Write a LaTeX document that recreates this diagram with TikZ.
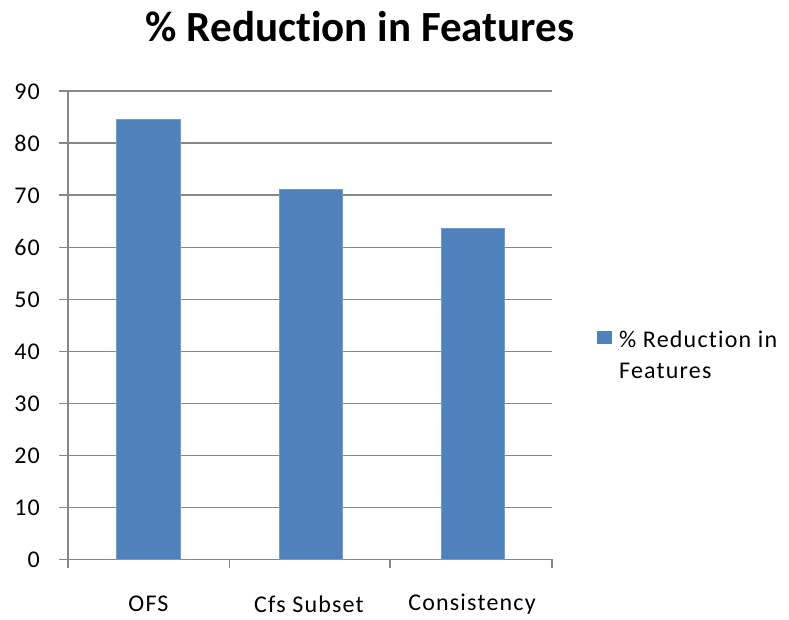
\documentclass[tikz,border=0pt]{standalone}
\usepackage{fontspec}
\setmainfont{Carlito}[Ligatures=NoCommon]
\definecolor{barblue}{HTML}{4F81BD}
\definecolor{gridgray}{HTML}{878787}
\begin{document}
\begin{tikzpicture}[x=1pt,y=-1pt,
  grid/.style={gridgray,line width=1.6pt},
  bar/.style={fill=barblue,draw=barblue!80!white,line width=0.6pt},
  lab/.style={font=\fontsize{24}{28}\selectfont\addfontfeatures{LetterSpace=5},inner sep=0pt},
  ttl/.style={font=\fontsize{43}{50}\selectfont\bfseries,inner sep=0pt}]
\useasboundingbox (0,0) rectangle (789,620);
% grid lines and y labels
\foreach \v in {0,10,...,90}{
  \draw[grid] (59,{559.3-5.2*\v}) -- (552,{559.3-5.2*\v});
  \node[lab,anchor=east] (y\v) at (40,{559.3-5.2*\v}) {\v};
}
% axes
\draw[grid] (68,90) -- (68,568);
\foreach \x in {229.3,389.7,551.7}{
  \draw[grid] (\x,559.3) -- (\x,568);
}
% bars
\fill[bar] (116.7,559.3) rectangle (180.3,119.3);
\fill[bar] (279,559.3) rectangle (342.3,189.3);
\fill[bar] (441,559.3) rectangle (504.3,228.7);
% category labels
\node[lab] (c1) at (148.5,604) {OFS};
\node[lab] (c2) at (309,604) {Cfs Subset};
\node[lab] (c3) at (472,604) {Consistency};
% title
\node[ttl] (title) at (360,27) {\% Reduction in Features};
% legend
\fill[barblue] (597,331) rectangle (612,344);
\node[lab,anchor=base west] (leg1) at (619,347) {\% Reduction in};
\node[lab,anchor=base west] (leg2) at (619,378) {Features};
\end{tikzpicture}
\end{document}
